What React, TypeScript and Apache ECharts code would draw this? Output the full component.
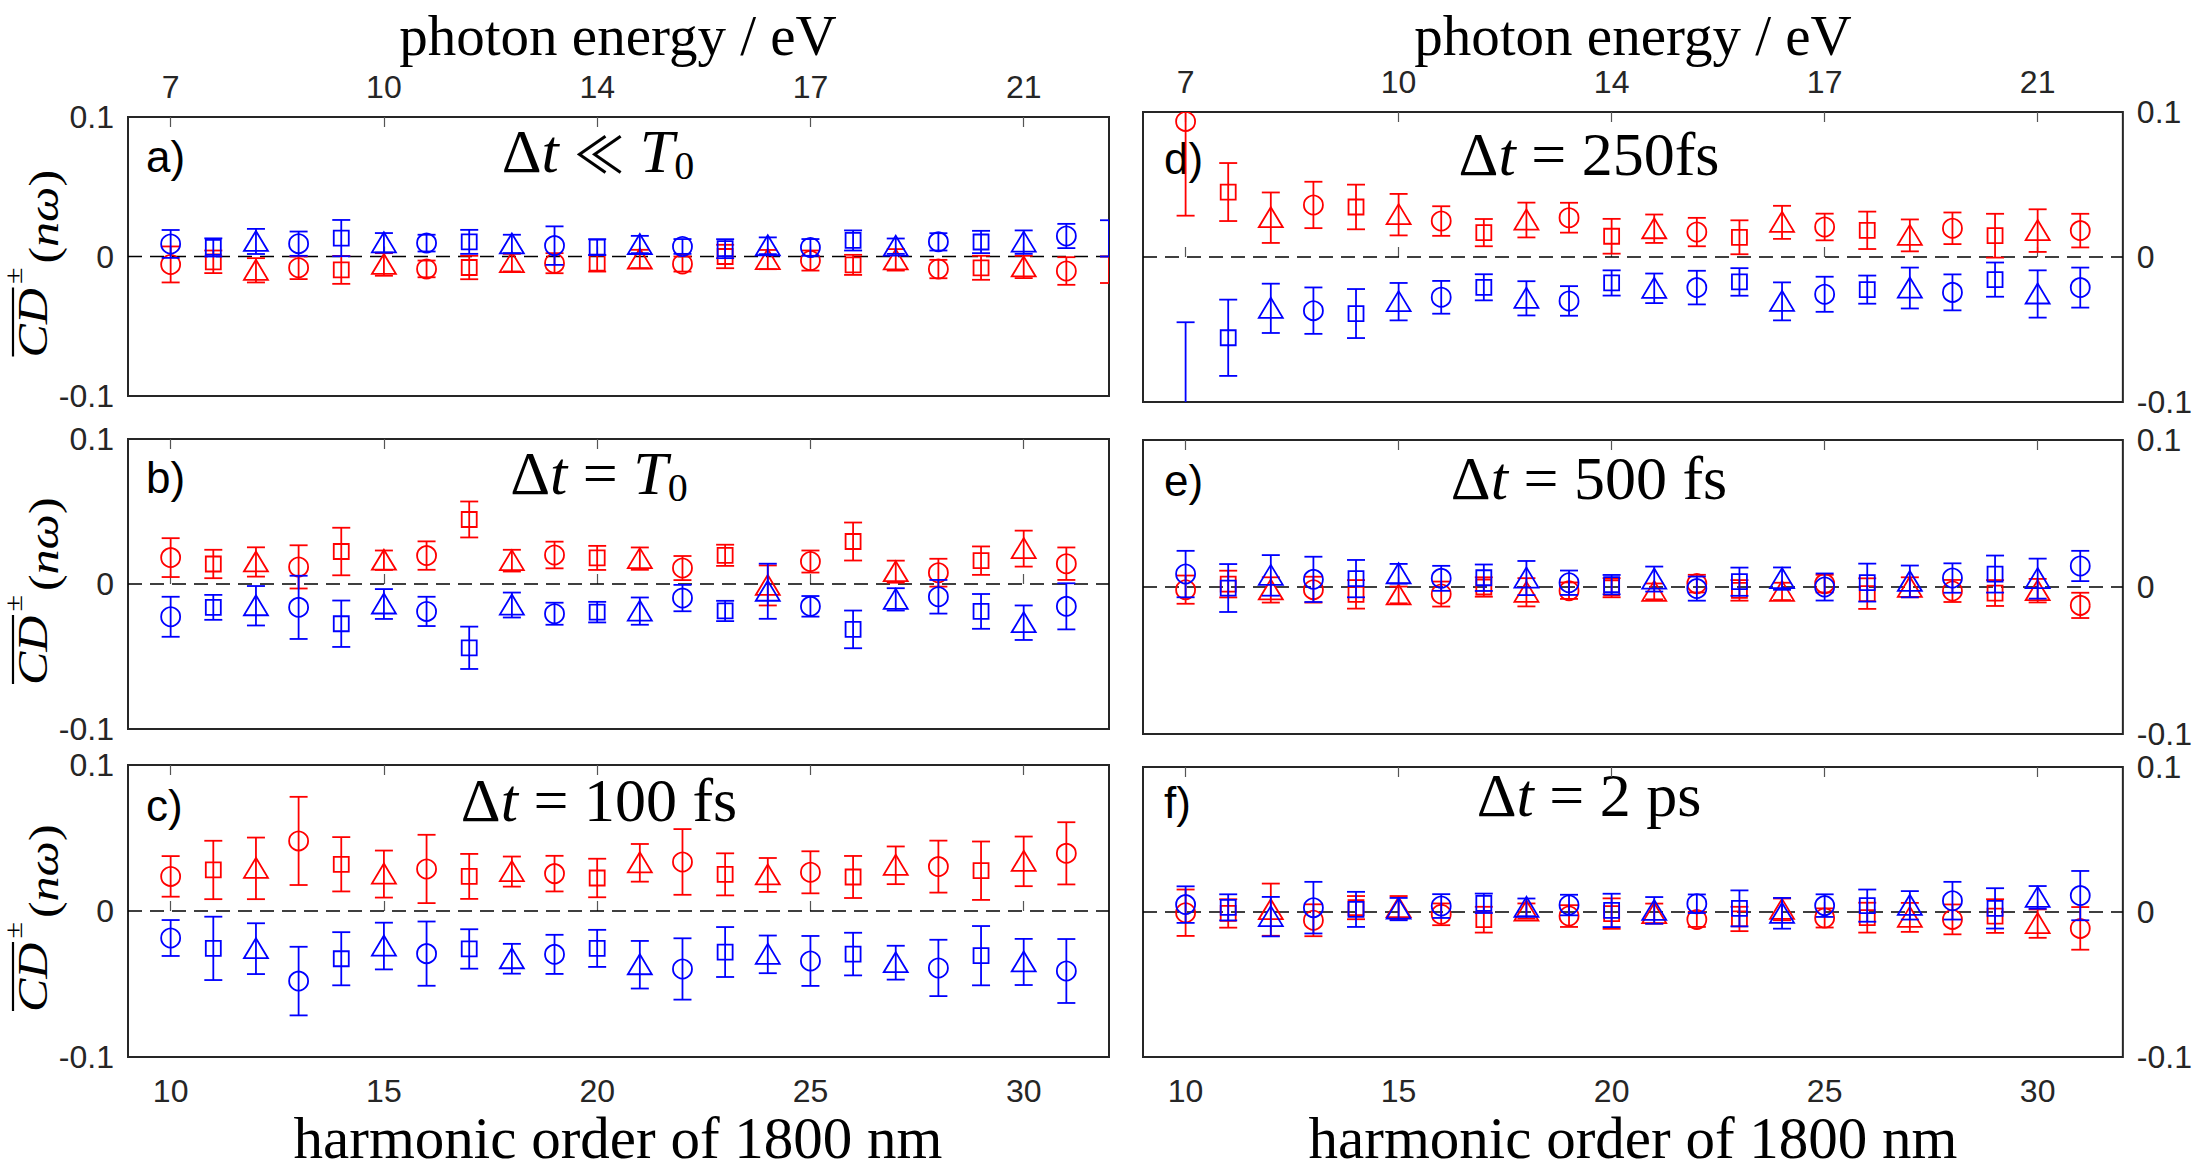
import React, { useEffect, useRef } from 'react';
import * as echarts from 'echarts';

// ---------- data ----------
const HARMONICS = [10, 11, 12, 13, 14, 15, 16, 17, 18, 19, 20, 21, 22, 23, 24, 25, 26, 27, 28, 29, 30, 31];
// panel a also carries a point at the right-hand limit (only its bar is visible)
const HARMONICS_A = [10, 11, 12, 13, 14, 15, 16, 17, 18, 19, 20, 21, 22, 23, 24, 25, 26, 27, 28, 29, 30, 31, 32];

const HARMONIC_TICKS = [10, 15, 20, 25, 30];
const PHOTON_ENERGY_LABELS = ['7', '10', '14', '17', '21'];
const ZERO_LINE = [[9, 0], [32, 0]];

// a) Δt ≪ T0
const A_RED = [-0.0057, -0.0038, -0.0099, -0.0081, -0.0096, -0.0057, -0.0089, -0.0079, -0.0044, -0.0048, -0.0048, -0.0018, -0.0054, 0.0, -0.0022, -0.0029, -0.006, -0.0024, -0.009, -0.0081, -0.0075, -0.0104, -0.0095];
const A_RED_ERR = [0.0129, 0.0081, 0.0087, 0.0081, 0.01, 0.0081, 0.006, 0.0084, 0.0063, 0.0072, 0.006, 0.0066, 0.0054, 0.0084, 0.0069, 0.0072, 0.0072, 0.0077, 0.0066, 0.0086, 0.008, 0.0099, 0.0095];
const A_BLUE = [0.009, 0.0065, 0.0108, 0.0092, 0.0132, 0.0098, 0.0096, 0.0105, 0.009, 0.0078, 0.0067, 0.0086, 0.0072, 0.0056, 0.0077, 0.0065, 0.0115, 0.0074, 0.0105, 0.0104, 0.0103, 0.0147, 0.013];
const A_BLUE_ERR = [0.01, 0.0065, 0.009, 0.0087, 0.013, 0.007, 0.006, 0.0086, 0.0066, 0.0138, 0.0057, 0.0062, 0.0053, 0.0068, 0.006, 0.006, 0.0072, 0.0055, 0.0062, 0.008, 0.0084, 0.0087, 0.013];

// b) Δt = T0
const B_RED = [0.0182, 0.0138, 0.0152, 0.0118, 0.0224, 0.0164, 0.0196, 0.0445, 0.0161, 0.02, 0.018, 0.0175, 0.011, 0.0198, -0.001, 0.0155, 0.0293, 0.0085, 0.0078, 0.0161, 0.0244, 0.014];
const B_RED_ERR = [0.0134, 0.0098, 0.0101, 0.0149, 0.0164, 0.0067, 0.0098, 0.0124, 0.0075, 0.0092, 0.0083, 0.0077, 0.0083, 0.0073, 0.0138, 0.0076, 0.0131, 0.0076, 0.0096, 0.0098, 0.0124, 0.0112];
const B_BLUE = [-0.0226, -0.0161, -0.015, -0.0161, -0.0274, -0.0138, -0.0189, -0.044, -0.0145, -0.0205, -0.0194, -0.0187, -0.0097, -0.0186, -0.005, -0.0154, -0.0313, -0.0106, -0.0088, -0.0189, -0.0267, -0.0154];
const B_BLUE_ERR = [0.0138, 0.0086, 0.0136, 0.0218, 0.016, 0.0103, 0.0101, 0.0146, 0.0086, 0.0076, 0.0071, 0.0094, 0.0091, 0.007, 0.019, 0.0071, 0.013, 0.0077, 0.0116, 0.012, 0.0119, 0.0159];

// c) Δt = 100 fs
const C_RED = [0.0237, 0.0281, 0.0292, 0.048, 0.032, 0.0253, 0.0288, 0.0237, 0.027, 0.0256, 0.0226, 0.033, 0.0336, 0.0251, 0.0247, 0.0265, 0.0233, 0.0313, 0.0304, 0.0276, 0.034, 0.0395];
const C_RED_ERR = [0.0139, 0.02, 0.0211, 0.0302, 0.0186, 0.0161, 0.0234, 0.0154, 0.0103, 0.0122, 0.0132, 0.0129, 0.0225, 0.0144, 0.0116, 0.0144, 0.0144, 0.0129, 0.0178, 0.02, 0.017, 0.0213];
const C_BLUE = [-0.0185, -0.0256, -0.0258, -0.048, -0.0327, -0.024, -0.0292, -0.026, -0.0327, -0.0297, -0.0256, -0.0368, -0.0397, -0.0281, -0.0297, -0.0342, -0.0295, -0.0354, -0.039, -0.0306, -0.0349, -0.0411];
const C_BLUE_ERR = [0.0123, 0.0217, 0.0174, 0.0235, 0.0182, 0.016, 0.022, 0.0135, 0.0102, 0.0134, 0.0127, 0.0163, 0.021, 0.0171, 0.0129, 0.0171, 0.0146, 0.0116, 0.0193, 0.0203, 0.0158, 0.0219];

// d) Δt = 250 fs
const D_RED = [0.0935, 0.0448, 0.0271, 0.0359, 0.0345, 0.0292, 0.0248, 0.0168, 0.0255, 0.0271, 0.0143, 0.0195, 0.0172, 0.0136, 0.0239, 0.0207, 0.0184, 0.0149, 0.0198, 0.0147, 0.0182, 0.0182];
const D_RED_ERR = [0.065, 0.02, 0.0174, 0.016, 0.0154, 0.0143, 0.0102, 0.0094, 0.012, 0.0103, 0.012, 0.0098, 0.0098, 0.0117, 0.0114, 0.0092, 0.0129, 0.011, 0.0109, 0.0151, 0.0147, 0.0116];
const D_BLUE = [-0.11, -0.0557, -0.0354, -0.037, -0.039, -0.0308, -0.0278, -0.0209, -0.0285, -0.0303, -0.0179, -0.0216, -0.0211, -0.0172, -0.0306, -0.0257, -0.0225, -0.0214, -0.0244, -0.0156, -0.0255, -0.0211];
const D_BLUE_ERR = [0.065, 0.0263, 0.017, 0.016, 0.0169, 0.0129, 0.0113, 0.009, 0.0118, 0.0102, 0.0087, 0.0102, 0.0116, 0.0095, 0.0131, 0.0121, 0.0097, 0.0141, 0.0124, 0.0118, 0.0163, 0.0138];

// e) Δt = 500 fs
const E_RED = [-0.0018, 0.002, -0.002, -0.0018, -0.005, -0.0054, -0.0048, 0.0, -0.0036, -0.0025, -0.0005, -0.003, 0.0023, -0.0023, -0.003, 0.0023, -0.0045, -0.0002, -0.0027, -0.0041, -0.0025, -0.0125];
const E_RED_ERR = [0.0096, 0.0091, 0.0086, 0.0088, 0.0097, 0.0057, 0.0085, 0.0066, 0.0096, 0.0056, 0.0065, 0.0054, 0.006, 0.007, 0.0059, 0.006, 0.0104, 0.0068, 0.0075, 0.0088, 0.008, 0.0086];
const E_BLUE = [0.0088, -0.0007, 0.0079, 0.0052, 0.0057, 0.009, 0.0059, 0.0063, 0.0061, 0.0029, 0.0016, 0.0054, -0.0011, 0.0036, 0.0057, 0.0, 0.003, 0.0038, 0.0061, 0.0088, 0.0057, 0.0143];
const E_BLUE_ERR = [0.0158, 0.0163, 0.0138, 0.0154, 0.0127, 0.0067, 0.0085, 0.009, 0.0116, 0.0083, 0.0066, 0.0085, 0.0082, 0.0096, 0.0076, 0.0092, 0.0129, 0.0108, 0.01, 0.0126, 0.0136, 0.0103];

// f) Δt = 2 ps
const F_RED = [-0.0005, -0.001, 0.0016, -0.0057, 0.003, 0.003, -0.0016, -0.0053, 0.0007, -0.0028, -0.0011, -0.0011, -0.0051, -0.0048, 0.0018, -0.0041, -0.0039, -0.0037, -0.0051, -0.0028, -0.008, -0.0113];
const F_RED_ERR = [0.016, 0.0098, 0.018, 0.011, 0.008, 0.008, 0.0075, 0.0089, 0.0052, 0.0075, 0.0105, 0.0069, 0.0052, 0.0084, 0.0075, 0.0066, 0.0103, 0.01, 0.0103, 0.0116, 0.0098, 0.0147];
const F_BLUE = [0.0051, 0.0032, -0.0032, 0.003, 0.0018, 0.002, 0.0041, 0.006, 0.0032, 0.0048, 0.0011, 0.0011, 0.0057, 0.0025, -0.0009, 0.0044, 0.0044, 0.0046, 0.0078, 0.0025, 0.0101, 0.0113];
const F_BLUE_ERR = [0.0126, 0.009, 0.0136, 0.0178, 0.0121, 0.0077, 0.0082, 0.0067, 0.0061, 0.0071, 0.0115, 0.0092, 0.0064, 0.0124, 0.0106, 0.0078, 0.0111, 0.0098, 0.013, 0.0139, 0.0078, 0.017];

// ---------- look ----------
const X_MIN = 9;
const X_MAX = 32;
const Y_MIN = -0.1;
const Y_MAX = 0.1;
const RED = '#ff0000';
const BLUE = '#0000ff';
const AXIS_COLOR = '#262626';
const SERIF = '"Liberation Serif", "DejaVu Serif", serif';
const SANS = '"Liberation Sans", Arial, sans-serif';
const CAP = 9;
const MARK_W = 1.8;

type Panel = {
  tag: string;
  title: string;
  box: [number, number, number, number];
  side: 'left' | 'right';
  topLabels: boolean;
  bottomLabels: boolean;
  titlePos: [number, number];
  tagPos: [number, number];
  harmonics: number[];
  red: number[];
  redErr: number[];
  blue: number[];
  blueErr: number[];
};

const PANELS: Panel[] = [
  { tag: 'a)', title: '{d|Δ}{i|t}{r| }{ll|≪}{r| }{i|T}{s|0}', box: [128, 117, 981, 279], side: 'left', topLabels: true, bottomLabels: false, titlePos: [598, 151], tagPos: [146, 156], harmonics: HARMONICS_A, red: A_RED, redErr: A_RED_ERR, blue: A_BLUE, blueErr: A_BLUE_ERR },
  { tag: 'b)', title: '{d|Δ}{i|t}{r| = }{i|T}{s|0}', box: [128, 439, 981, 290], side: 'left', topLabels: false, bottomLabels: false, titlePos: [599, 473], tagPos: [146, 477], harmonics: HARMONICS, red: B_RED, redErr: B_RED_ERR, blue: B_BLUE, blueErr: B_BLUE_ERR },
  { tag: 'c)', title: '{d|Δ}{i|t}{r| = 100 fs}', box: [128, 765, 981, 292], side: 'left', topLabels: false, bottomLabels: true, titlePos: [599, 800], tagPos: [146, 805], harmonics: HARMONICS, red: C_RED, redErr: C_RED_ERR, blue: C_BLUE, blueErr: C_BLUE_ERR },
  { tag: 'd)', title: '{d|Δ}{i|t}{r| = 250fs}', box: [1143, 112, 981, 290], side: 'right', topLabels: true, bottomLabels: false, titlePos: [1589, 154], tagPos: [1164, 158], harmonics: HARMONICS, red: D_RED, redErr: D_RED_ERR, blue: D_BLUE, blueErr: D_BLUE_ERR },
  { tag: 'e)', title: '{d|Δ}{i|t}{r| = 500 fs}', box: [1143, 440, 981, 294], side: 'right', topLabels: false, bottomLabels: false, titlePos: [1589, 478], tagPos: [1164, 480], harmonics: HARMONICS, red: E_RED, redErr: E_RED_ERR, blue: E_BLUE, blueErr: E_BLUE_ERR },
  { tag: 'f)', title: '{d|Δ}{i|t}{r| = 2 ps}', box: [1143, 767, 981, 290], side: 'right', topLabels: false, bottomLabels: true, titlePos: [1589, 795], tagPos: [1164, 802], harmonics: HARMONICS, red: F_RED, redErr: F_RED_ERR, blue: F_BLUE, blueErr: F_BLUE_ERR },
];

// error bar with cap plus an open marker; marker shape cycles with harmonic order
function errorBarRenderer(color: string) {
  return (_params: any, api: any) => {
    const h = api.value(0);
    const v = api.value(1);
    const e = api.value(2);
    const top = api.coord([h, v + e]);
    const bot = api.coord([h, v - e]);
    const c = api.coord([h, v]);
    const style = { stroke: color, lineWidth: MARK_W, fill: 'none' };
    const children: any[] = [
      { type: 'line', shape: { x1: top[0], y1: top[1], x2: bot[0], y2: bot[1] }, style },
      { type: 'line', shape: { x1: top[0] - CAP, y1: top[1], x2: top[0] + CAP, y2: top[1] }, style },
      { type: 'line', shape: { x1: bot[0] - CAP, y1: bot[1], x2: bot[0] + CAP, y2: bot[1] }, style },
    ];
    const inside = h < X_MAX - 1e-6 && v >= Y_MIN && v <= Y_MAX;
    if (inside) {
      const m = h % 3;
      if (m === 1) {
        children.push({ type: 'circle', shape: { cx: c[0], cy: c[1], r: 9.5 }, style });
      } else if (m === 2) {
        children.push({ type: 'rect', shape: { x: c[0] - 7.5, y: c[1] - 7.5, width: 15, height: 15 }, style });
      } else {
        children.push({
          type: 'polygon',
          shape: { points: [[c[0], c[1] - 10.5], [c[0] - 12, c[1] + 9.5], [c[0] + 12, c[1] + 9.5]] },
          style,
        });
      }
    }
    return { type: 'group', children };
  };
}

function tickLabelStyle(show: boolean, margin: number) {
  return {
    show,
    fontSize: 32,
    fontFamily: SANS,
    color: AXIS_COLOR,
    margin,
  };
}

const CENTER = { align: 'center', textAlign: 'center', verticalAlign: 'middle', textVerticalAlign: 'middle' };
const LEFT_MID = { align: 'left', textAlign: 'left', verticalAlign: 'middle', textVerticalAlign: 'middle' };

// rotated quantity label: overlined CD with ± superscript, then (nω)
function quantityLabel(cy: number): any[] {
  const start = cy + 101;
  return [
    {
      type: 'text', x: 33, y: start, rotation: Math.PI / 2, scaleY: 0.85, silent: true,
      style: {
        text: '{c|CD}{p|±}{r|(}{i|nω}{r|)}',
        fill: '#000', ...LEFT_MID,
        rich: {
          c: { fontFamily: SERIF, fontStyle: 'italic', fontSize: 50, lineHeight: 76, verticalAlign: 'middle', fill: '#000' },
          p: { fontFamily: SERIF, fontSize: 30, lineHeight: 30, verticalAlign: 'top', fill: '#000', padding: [0, 4, 0, 4] },
          r: { fontFamily: SERIF, fontSize: 50, lineHeight: 62, verticalAlign: 'bottom', fill: '#000' },
          i: { fontFamily: SERIF, fontStyle: 'italic', fontSize: 50, lineHeight: 62, verticalAlign: 'bottom', fill: '#000' },
        },
      },
    },
    // bar over CD
    { type: 'line', silent: true, shape: { x1: 13, y1: start - 1, x2: 13, y2: start - 70 }, style: { stroke: '#000', lineWidth: 2.2 } },
  ];
}

function buildOption() {
  const grid: any[] = [];
  const xAxis: any[] = [];
  const yAxis: any[] = [];
  const series: any[] = [];
  const graphic: any[] = [];

  PANELS.forEach((p, i) => {
    const [left, top, width, height] = p.box;
    grid.push({ left, top, width, height, show: true, borderColor: AXIS_COLOR, borderWidth: 2, backgroundColor: 'transparent' });

    const tick = {
      show: true,
      inside: true,
      length: 10,
      customValues: HARMONIC_TICKS,
      lineStyle: { color: '#555', width: 1.2 },
    };
    xAxis.push({
      type: 'value', gridIndex: i, min: X_MIN, max: X_MAX, position: 'bottom',
      axisLine: { show: false }, splitLine: { show: false }, axisTick: tick,
      axisLabel: { ...tickLabelStyle(p.bottomLabels, 18), customValues: HARMONIC_TICKS },
    });
    xAxis.push({
      type: 'value', gridIndex: i, min: X_MIN, max: X_MAX, position: 'top',
      axisLine: { show: false }, splitLine: { show: false }, axisTick: tick,
      axisLabel: {
        ...tickLabelStyle(p.topLabels, 14),
        customValues: HARMONIC_TICKS,
        formatter: (v: number) => {
          const k = HARMONIC_TICKS.indexOf(Math.round(v));
          return k >= 0 ? PHOTON_ENERGY_LABELS[k] : '';
        },
      },
    });
    yAxis.push({
      type: 'value', gridIndex: i, min: Y_MIN, max: Y_MAX, interval: 0.1, position: p.side,
      axisLine: { show: false }, axisTick: { show: false }, splitLine: { show: false },
      axisLabel: {
        ...tickLabelStyle(true, 14),
        formatter: (v: number) => (Math.abs(v) < 1e-9 ? '0' : v.toFixed(1)),
      },
    });

    series.push({
      type: 'line', xAxisIndex: 2 * i, yAxisIndex: i, data: ZERO_LINE, showSymbol: false, silent: true,
      lineStyle: { color: '#000', width: 1.6, type: [14, 8] }, z: 1,
    });
    const rows = (vals: number[], errs: number[]) => p.harmonics.map((h, k) => [h, vals[k], errs[k]]);
    series.push({
      type: 'custom', xAxisIndex: 2 * i, yAxisIndex: i, clip: true, silent: true, z: 3,
      encode: { x: 0, y: 1 }, data: rows(p.red, p.redErr), renderItem: errorBarRenderer(RED),
    });
    series.push({
      type: 'custom', xAxisIndex: 2 * i, yAxisIndex: i, clip: true, silent: true, z: 4,
      encode: { x: 0, y: 1 }, data: rows(p.blue, p.blueErr), renderItem: errorBarRenderer(BLUE),
    });

    // panel heading
    graphic.push({
      type: 'text', x: p.titlePos[0], y: p.titlePos[1], silent: true,
      style: {
        text: p.title, fill: '#000', ...CENTER,
        rich: {
          d: { fontFamily: SERIF, fontSize: 62, lineHeight: 68, verticalAlign: 'middle', fill: '#000' },
          i: { fontFamily: SERIF, fontStyle: 'italic', fontSize: 62, lineHeight: 68, verticalAlign: 'middle', fill: '#000' },
          r: { fontFamily: SERIF, fontSize: 62, lineHeight: 68, verticalAlign: 'middle', fill: '#000' },
          ll: { fontFamily: '"Noto Sans CJK JP", "DejaVu Serif", serif', fontSize: 50, lineHeight: 68, verticalAlign: 'middle', fill: '#000' },
          s: { fontFamily: SERIF, fontSize: 40, lineHeight: 36, verticalAlign: 'bottom', fill: '#000' },
        },
      },
    });
    // panel tag
    graphic.push({
      type: 'text', x: p.tagPos[0], y: p.tagPos[1], silent: true,
      style: { text: p.tag, fontFamily: SANS, fontSize: 44, fill: '#000', ...LEFT_MID },
    });

    if (p.side === 'left') graphic.push(...quantityLabel(top + height / 2));
  });

  // column headings, kept fully inside the canvas
  const colCenters = [618, 1633];
  colCenters.forEach((cx) => {
    graphic.push({
      type: 'text', x: cx, y: 35, silent: true,
      style: { text: 'photon energy / eV', fontFamily: SERIF, fontSize: 57, lineHeight: 46, fill: '#000', ...CENTER },
    });
    graphic.push({
      type: 'text', x: cx, y: 1138, silent: true,
      style: { text: 'harmonic order of 1800 nm', fontFamily: SERIF, fontSize: 59, lineHeight: 40, fill: '#000', ...CENTER },
    });
  });

  return {
    animation: false,
    backgroundColor: '#ffffff',
    grid,
    xAxis,
    yAxis,
    series,
    graphic,
  };
}

export default function App() {
  const ref = useRef<HTMLDivElement>(null);
  useEffect(() => {
    if (!ref.current) return;
    const chart = echarts.init(ref.current, null, { renderer: 'svg' });
    chart.setOption(buildOption() as any);
    return () => chart.dispose();
  }, []);
  return (
    <div
      ref={ref}
      style={{ position: 'fixed', left: 0, top: 0, width: 2195, height: 1173, background: '#fff' }}
    />
  );
}
